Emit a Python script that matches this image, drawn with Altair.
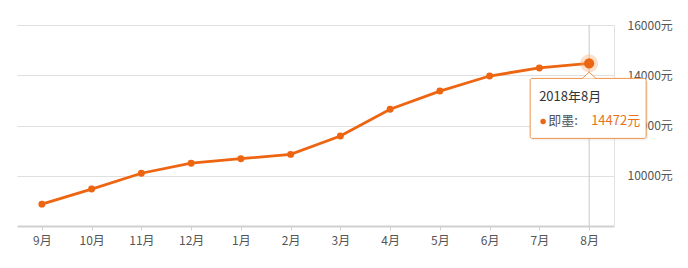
import altair as alt
import pandas as pd

months = ["9月", "10月", "11月", "12月", "1月", "2月", "3月", "4月", "5月", "6月", "7月", "8月"]
prices = [8870, 9470, 10100, 10500, 10680, 10850, 11580, 12650, 13370, 13970, 14290, 14472]
y_ticks = [10000, 12000, 14000, 16000]
tip_month = "8月"
tip_title = "2018年8月"
tip_series = "即墨:"
tip_value = "14472元"

LINE = "#ee6511"
FONT = "Noto Sans CJK SC"

df = pd.DataFrame({"month": months, "price": prices})

X = alt.X("month:N", sort=months, title=None,
          scale=alt.Scale(type="point", padding=0.5),
          axis=alt.Axis(labelAngle=0, domainColor="#d0d0d0", domainWidth=2,
                        tickColor="#d0d0d0", tickSize=4, labelPadding=5,
                        labelColor="#555555", labelFontSize=12, labelFont=FONT,
                        grid=False))
Y = alt.Y("price:Q", title=None,
          scale=alt.Scale(domain=[8000, 16000], nice=False, zero=False),
          axis=alt.Axis(orient="right", values=y_ticks, labelExpr="datum.value + '元'",
                        domainColor="#e2e2e2", domainWidth=1, ticks=False, tickSize=0,
                        labelPadding=13, labelColor="#555555", labelFontSize=12,
                        labelFont=FONT, gridColor="#e0e0e0", grid=True))

base = alt.Chart(df).encode(x=X, y=Y)
tip = base.transform_filter(alt.datum.month == tip_month)

cross = tip.mark_rule(color="#c8c8c8", strokeWidth=1).encode(
    x=X, y=alt.value(0), y2=alt.value(201))
line = base.mark_line(color=LINE, strokeWidth=2.8)
pts = base.mark_circle(color=LINE, size=48, opacity=1)
halo = tip.mark_circle(color="#f7a866", size=330, opacity=0.35)
hot = tip.mark_circle(color=LINE, size=105, opacity=1)

shadow = tip.mark_rect(xOffset=-58, x2Offset=59, yOffset=17, y2Offset=77,
                       fill="#000000", opacity=0.06, cornerRadius=3).encode(
    x2=alt.X2("month:N"), y2=alt.Y2("price:Q"))
box = tip.mark_rect(xOffset=-59, x2Offset=57, yOffset=15, y2Offset=75,
                    fill="white", stroke="#f0934a", strokeWidth=1, cornerRadius=2).encode(
    x2=alt.X2("month:N"), y2=alt.Y2("price:Q"))
arrow = tip.mark_point(shape="M -1 0.45 L 0 -0.45 L 1 0.45", size=196, fill="white",
                       filled=True, stroke="#f0934a", strokeWidth=1, opacity=1,
                       fillOpacity=1, yOffset=12)
t_title = tip.mark_text(align="left", baseline="middle", dx=-50, dy=34, fontSize=13,
                        color="#333333", font=FONT).encode(text=alt.value(tip_title))
t_dot = tip.mark_circle(color=LINE, size=30, opacity=1, xOffset=-46, yOffset=58)
t_series = tip.mark_text(align="left", baseline="middle", dx=-41, dy=58, fontSize=13,
                         color="#555555", font=FONT).encode(text=alt.value(tip_series))
t_value = tip.mark_text(align="left", baseline="middle", dx=2, dy=58, fontSize=13,
                        color="#e8731a", font=FONT).encode(text=alt.value(tip_value))

chart = alt.layer(cross, line, pts, halo, hot, shadow, box, arrow,
                  t_title, t_dot, t_series, t_value).properties(
    width=597, height=201,
    autosize=alt.AutoSizeParams(type="none"),
    padding={"left": 17, "top": 25, "right": 74, "bottom": 42},
    background="white",
).configure_view(stroke=None)

chart.save("out.html", embed_options={"renderer": "svg", "actions": False})
